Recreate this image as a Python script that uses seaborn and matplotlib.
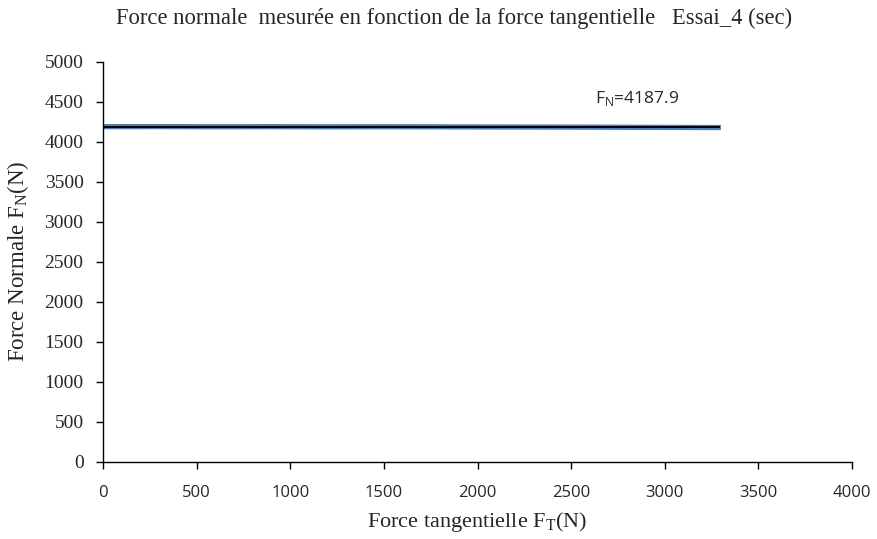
import matplotlib
matplotlib.use("Agg")
import matplotlib.pyplot as plt
import seaborn as sns
import pandas as pd

# Measured normal force vs tangential force (test 4, dry)
force_tangentielle = [0, 300, 600, 900, 1200, 1500, 1800, 2100, 2400, 2700, 3000, 3300]
force_normale = [4188, 4189, 4187, 4188, 4186, 4187, 4186, 4184, 4183, 4181, 4179, 4177]
fn_moyenne = 4187.9
ft_fin = 3295

x_ticks = list(range(0, 4001, 500))
y_ticks = list(range(0, 5001, 500))

sns.set_style("white")
plt.rcParams["font.family"] = ["Liberation Serif", "DejaVu Serif"]
plt.rcParams["mathtext.fontset"] = "custom"
plt.rcParams["mathtext.rm"] = "Liberation Serif"
plt.rcParams["mathtext.sf"] = "Open Sans"

fig = plt.figure(figsize=(8.78, 5.39), dpi=100)
ax = fig.add_axes([0.1173, 0.1434, 0.8531, 0.7421])

df = pd.DataFrame({"FT": force_tangentielle, "FN": force_normale})
sns.lineplot(data=df, x="FT", y="FN", ax=ax, color="#4a7ebb", linewidth=3.8,
             solid_capstyle="butt")
sns.lineplot(x=[0, ft_fin], y=[fn_moyenne, fn_moyenne], ax=ax, color="black",
             linewidth=1.4, solid_capstyle="butt")

ax.set_xlim(0, 4000)
ax.set_ylim(0, 5000)
ax.set_xticks(x_ticks)
ax.set_yticks(y_ticks)
ax.set_xticklabels([str(v) for v in x_ticks], family="Open Sans", fontsize=12)
ax.set_yticklabels([str(v) for v in y_ticks], fontsize=14)

for s in ["top", "right"]:
    ax.spines[s].set_visible(False)
for s in ["left", "bottom"]:
    ax.spines[s].set_color("black")
    ax.spines[s].set_linewidth(1.0)

ax.tick_params(axis="both", which="major", direction="out", length=5, width=1,
               color="black", left=True, bottom=True)
ax.tick_params(axis="x", pad=12)
ax.tick_params(axis="y", pad=9)

ax.set_xlabel(r"Force tangentielle F$_\mathrm{T}$(N)", fontsize=16)
ax.set_ylabel(r"Force Normale F$_\mathrm{N}$(N)", fontsize=16.5)
ax.xaxis.set_label_coords(0.5, (539 - 522 - 539 * 0.1434) / (539 * 0.7421), transform=ax.transAxes)
ax.xaxis.label.set_verticalalignment("center")
ax.yaxis.set_label_coords((18 - 103) / (878 * 0.8531), 0.5, transform=ax.transAxes)
ax.yaxis.label.set_verticalalignment("center")

fig.text(454 / 878, 1 - 18 / 539,
         "Force normale  mesurée en fonction de la force tangentielle   Essai_4 (sec)",
         fontsize=16.3, ha="center", va="center")

ax.text(2627, 4540, r"$\mathsf{F}_\mathsf{N}$=4187.9", family="Open Sans",
        fontsize=12.5, va="center")

fig.savefig("out.png", dpi=100)
